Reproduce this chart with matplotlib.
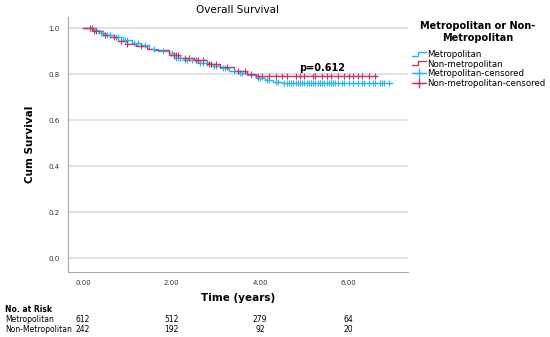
import matplotlib.pyplot as plt
import numpy as np
from matplotlib.lines import Line2D
from matplotlib.legend_handler import HandlerBase

# Kaplan-Meier step data
metro_t = [0, 0.2, 0.35, 0.5, 0.7, 0.9, 1.1, 1.3, 1.5, 1.7, 1.95, 2.05, 2.3, 2.6,
           2.9, 3.1, 3.3, 3.5, 3.7, 3.9, 4.1, 4.3, 4.5, 6.97]
metro_s = [1.0, 0.99, 0.98, 0.97, 0.96, 0.95, 0.935, 0.925, 0.91, 0.9, 0.89, 0.87,
           0.86, 0.85, 0.835, 0.825, 0.815, 0.805, 0.795, 0.785, 0.775, 0.765, 0.76, 0.76]
nonmetro_t = [0, 0.25, 0.45, 0.6, 0.8, 1.0, 1.2, 1.45, 1.6, 1.95, 2.2, 2.5, 2.8,
              3.1, 3.4, 3.7, 3.9, 6.63]
nonmetro_s = [1.0, 0.985, 0.97, 0.96, 0.945, 0.93, 0.92, 0.91, 0.905, 0.885, 0.87,
              0.86, 0.845, 0.83, 0.815, 0.8, 0.79, 0.79]

# censored observations (times)
metro_cens = [0.3, 0.4, 0.45, 0.55, 0.6, 0.75, 0.8, 0.95, 1.0, 1.15, 1.25, 1.4, 1.6,
              1.8, 2.0, 2.1, 2.15, 2.2, 2.3, 2.35, 2.45, 2.55, 2.65, 2.7, 2.8, 2.95,
              3.0, 3.15, 3.2, 3.4, 3.55, 3.6, 3.8, 3.95, 4.0, 4.15, 4.2, 4.35, 4.4,
              4.55, 4.6, 4.65, 4.7, 4.75, 4.8, 4.85, 4.9, 4.95, 5.0, 5.05, 5.1,
              5.15, 5.2, 5.25, 5.3, 5.35, 5.4, 5.45, 5.5, 5.55, 5.6, 5.65, 5.7,
              5.75, 5.85, 5.9, 6.0, 6.1, 6.2, 6.3, 6.35, 6.45, 6.55, 6.6, 6.7,
              6.75, 6.8, 6.9]
nonmetro_cens = [0.15, 0.2, 0.25, 0.3, 0.5, 0.7, 0.85, 1.0, 1.3, 2.05, 2.1, 2.15,
                 2.3, 2.4, 2.55, 2.6, 2.7, 2.85, 2.9, 3.0, 3.25, 3.5, 3.65, 3.8,
                 3.95, 4.05, 4.2, 4.35, 4.5, 4.6, 4.8, 4.9, 5.0, 5.2, 5.25, 5.4,
                 5.5, 5.6, 5.75, 5.9, 6.0, 6.1, 6.2, 6.3, 6.45, 6.6]

risk_times = [0, 2, 4, 6]
risk_metro = [612, 512, 279, 64]
risk_nonmetro = [242, 192, 92, 20]

c_metro = '#22b8ee'
c_non = '#cc3366'


def surv_at(times, surv, pts):
    idx = np.searchsorted(times, pts, side='right') - 1
    return np.array(surv)[idx]


# legend icon drawn as a small step
class StepHandler(HandlerBase):
    def create_artists(self, legend, orig_handle, xd, yd, w, h, fontsize, trans):
        x = [-xd, -xd + w * 0.45, -xd + w * 0.45, -xd + w]
        y = [-yd + h * 0.2, -yd + h * 0.2, -yd + h * 0.85, -yd + h * 0.85]
        return [Line2D(x, y, color=orig_handle.get_color(), lw=1, transform=trans)]


fig = plt.figure(figsize=(5.5, 3.37), dpi=100)
ax = fig.add_axes([68 / 550, 1 - 272 / 337, 340 / 550, 255 / 337])

ax.step(metro_t, metro_s, where='post', color=c_metro, lw=1)
ax.step(nonmetro_t, nonmetro_s, where='post', color=c_non, lw=1)
ax.plot(metro_cens, surv_at(metro_t, metro_s, metro_cens), '+', color=c_metro,
        ms=4.5, mew=0.8)
ax.plot(nonmetro_cens, surv_at(nonmetro_t, nonmetro_s, nonmetro_cens), '+',
        color=c_non, ms=4.5, mew=0.8)

ax.text(5.4, 0.815, 'p=0.612', fontsize=7, fontweight='bold', ha='center')

ax.set_xlim(-0.34, 7.34)
ax.set_ylim(-0.06, 1.048)
ax.set_yticks([0, 0.2, 0.4, 0.6, 0.8, 1.0])
ax.set_yticklabels(['0.0', '0.2', '0.4', '0.6', '0.8', '1.0'])
ax.set_xticks(risk_times)
ax.set_xticklabels(['0.00', '2.00', '4.00', '6.00'])
ax.tick_params(length=0, labelsize=5, colors='#333333', pad=6)
ax.grid(axis='y', color='#dddddd', lw=1.2)
ax.set_axisbelow(True)
for s in ['top', 'right']:
    ax.spines[s].set_visible(False)
ax.spines['left'].set_color('#aaaaaa')
ax.spines['bottom'].set_color('#aaaaaa')

ax.set_title('Overall Survival', fontsize=7.5, pad=3)
ax.set_ylabel('Cum Survival', fontsize=7.5, fontweight='bold', labelpad=10)
ax.set_xlabel('Time (years)', fontsize=7.5, fontweight='bold', labelpad=5)

# legend: title as separate text, entries below
fig.text(478 / 550, 1 - 32 / 337, 'Metropolitan or Non-\nMetropolitan', fontsize=7,
         fontweight='bold', ha='center', va='center', multialignment='center')
handles = [Line2D([], [], color=c_metro), Line2D([], [], color=c_non),
           Line2D([], [], color=c_metro, marker='+', ms=7, lw=1),
           Line2D([], [], color=c_non, marker='+', ms=7, lw=1)]
labels = ['Metropolitan', 'Non-metropolitan', 'Metropolitan-censored',
          'Non-metropolitan-censored']
fig.legend(handles, labels, loc='upper left', bbox_to_anchor=(404 / 550, 1 - 42 / 337),
           frameon=False, fontsize=6.2, numpoints=1, handlelength=1.6,
           handletextpad=0.2, labelspacing=0.1,
           handler_map={handles[0]: StepHandler(), handles[1]: StepHandler()})

# number at risk table
fs = 5.5
fig.text(5 / 550, 1 - 310 / 337, 'No. at Risk', fontsize=fs, fontweight='bold', va='center')
fig.text(5 / 550, 1 - 320 / 337, 'Metropolitan', fontsize=fs, va='center')
fig.text(5 / 550, 1 - 330 / 337, 'Non-Metropolitan', fontsize=fs, va='center')
for t, a, b in zip(risk_times, risk_metro, risk_nonmetro):
    xf = ax.transData.transform((t, 0))[0] / fig.bbox.width
    fig.text(xf, 1 - 320 / 337, str(a), fontsize=fs, va='center', ha='center')
    fig.text(xf, 1 - 330 / 337, str(b), fontsize=fs, va='center', ha='center')

fig.savefig('out.png', dpi=100)
